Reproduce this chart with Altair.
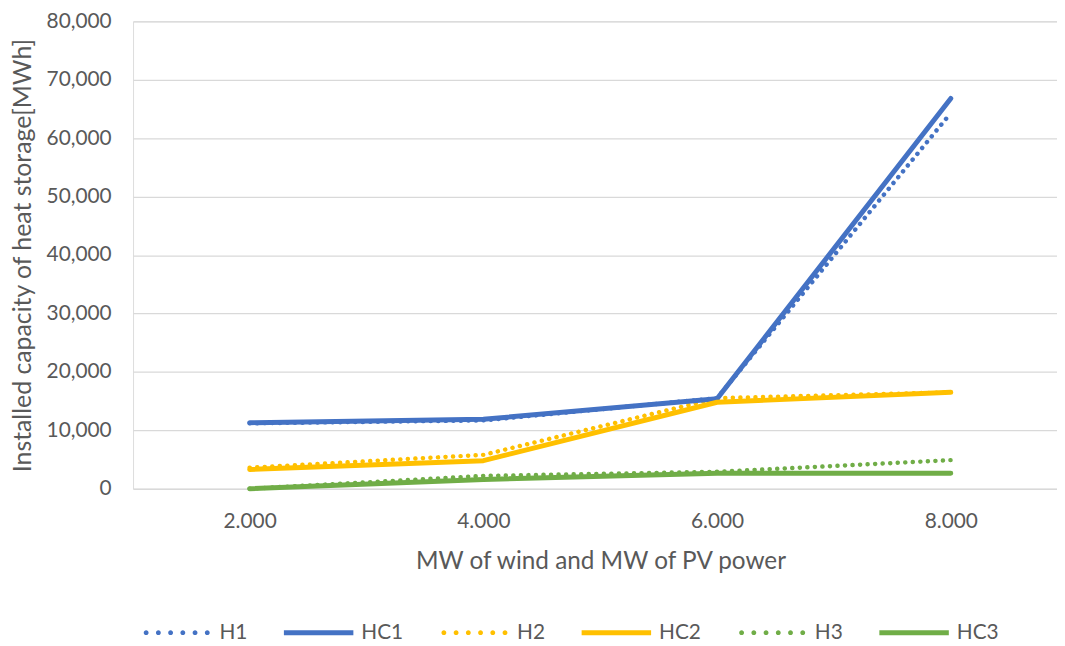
import altair as alt
import pandas as pd

categories = ["2.000", "4.000", "6.000", "8.000"]
series_names = ["H1", "HC1", "H2", "HC2", "H3", "HC3"]
h1 = [11200, 11700, 15500, 64300]
hc1 = [11300, 11900, 15400, 66800]
h2 = [3600, 5800, 15500, 16500]
hc2 = [3300, 4800, 14800, 16500]
h3 = [0, 2200, 2900, 4900]
hc3 = [0, 1600, 2650, 2650]

series_values = [h1, hc1, h2, hc2, h3, hc3]
series_kind = ["dotted", "solid", "dotted", "solid", "dotted", "solid"]
colors = ["#4472C4", "#4472C4", "#FFC000", "#FFC000", "#70AD47", "#70AD47"]


def dots_path(n=6, span=0.88, r=0.07):
    parts = []
    for i in range(n):
        cx = -span + 2 * span * i / (n - 1)
        parts.append(
            f"M{cx - r:.4f},0 a{r},{r} 0 1,0 {2 * r},0 a{r},{r} 0 1,0 {-2 * r},0 Z"
        )
    return " ".join(parts)


LINE_PATH = "M-1,-0.072 H1 V0.072 H-1 Z"
DOT_PATH = dots_path()
shapes = [DOT_PATH if k == "dotted" else LINE_PATH for k in series_kind]

rows = []
for si, (name, vals, kind) in enumerate(zip(series_names, series_values, series_kind)):
    for ci, (cat, v) in enumerate(zip(categories, vals)):
        rows.append({"series": name, "kind": kind, "cat": cat, "xnum": float(cat) * 1000,
                     "value": v, "s_order": si, "c_order": ci})
df = pd.DataFrame(rows)
tick_values = [float(c) * 1000 for c in categories]

FONT = "Lato"
GRAY = "#595959"

legend = alt.Legend(
    title=None,
    orient="none",
    legendX=9,
    legendY=581,
    direction="horizontal",
    columns=6,
    gridAlign="each",
    symbolSize=4900,
    symbolStrokeWidth=0,
    symbolOpacity=1,
    labelFontSize=21,
    labelColor=GRAY,
    labelFont=FONT,
    labelOffset=8,
    columnPadding=36,
)

color_scale = alt.Scale(domain=series_names, range=colors)
shape_scale = alt.Scale(domain=series_names, range=shapes)

x_enc = alt.X(
    "xnum:Q",
    scale=alt.Scale(domain=[1002, 8909], nice=False, zero=False),
    axis=alt.Axis(
        values=tick_values,
        labelExpr="format(datum.value / 1000, '.3f')",
        title="MW of wind and MW of PV power",
        titleX=471,
        titleFontSize=24.5,
        titleFontWeight="normal",
        titleColor=GRAY,
        titleFont=FONT,
        titlePadding=18,
        labelAngle=0,
        labelFontSize=21,
        labelColor=GRAY,
        labelFont=FONT,
        labelPadding=22,
        labelFlush=False,
        ticks=False,
        domain=False,
        grid=False,
    ),
)
y_enc = alt.Y(
    "value:Q",
    scale=alt.Scale(domain=[0, 80000], nice=False),
    axis=alt.Axis(
        values=list(range(0, 80001, 10000)),
        format=",.0f",
        title="Installed capacity of heat storage[MWh]",
        titleFontSize=25,
        titleFontWeight="normal",
        titleColor=GRAY,
        titleFont=FONT,
        titlePadding=11,
        labelFontSize=21,
        labelColor=GRAY,
        labelFont=FONT,
        labelPadding=22,
        ticks=False,
        domain=False,
        grid=True,
        gridColor="#D9D9D9",
        gridWidth=1.3,
    ),
)

color_enc = alt.Color("series:N", scale=color_scale, legend=legend)

base = alt.Chart(df).encode(
    x=x_enc,
    y=y_enc,
    color=color_enc,
    order=alt.Order("c_order:Q"),
)

dotted = base.transform_filter(alt.datum.kind == "dotted").mark_line(
    strokeWidth=4.5, strokeCap="round", strokeJoin="round", strokeDash=[0.1, 7.5]
)

solid = base.transform_filter(alt.datum.kind == "solid").mark_line(
    strokeWidth=5, strokeCap="round", strokeJoin="round"
)

# legend carrier: draws no data rows, only gives the legend its symbols
legend_layer = base.transform_filter(alt.datum.value < -1).mark_point(filled=True, opacity=1).encode(
    shape=alt.Shape("series:N", scale=shape_scale, legend=legend),
)

chart = (
    alt.layer(dotted, solid, legend_layer)
    .properties(
        width=931,
        height=471,
        autosize=alt.AutoSizeParams(type="none"),
        padding={"left": 126, "top": 11, "right": 0, "bottom": 152},
    )
    .configure_view(stroke=None)
    .configure(font=FONT)
)

chart.save("out.html", embed_options={"renderer": "svg", "actions": False})
